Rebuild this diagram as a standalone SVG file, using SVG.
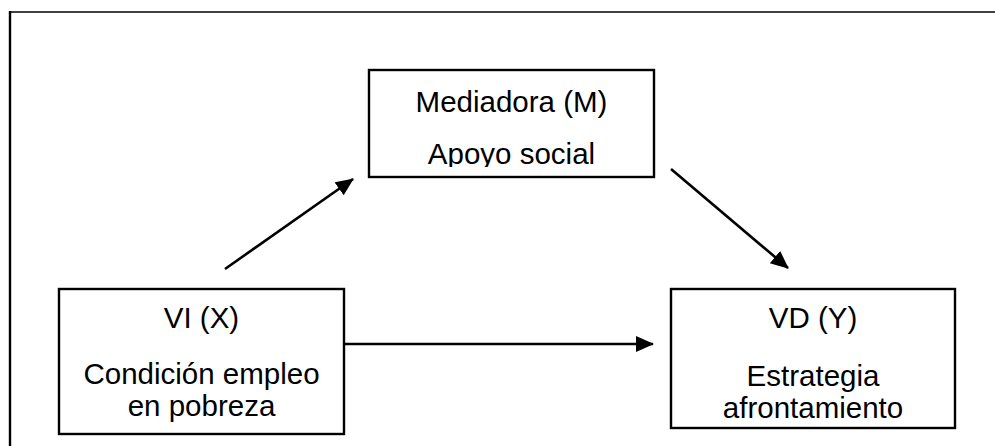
<svg xmlns="http://www.w3.org/2000/svg" width="995" height="446" viewBox="0 0 995 446">
<style>
.box{fill:#fff;stroke:#000;stroke-width:2.4}
.t{font-family:"Liberation Sans",Arial,sans-serif;font-size:29.5px;fill:#000;text-anchor:middle}
.c{stroke:#000;stroke-width:2.6;fill:none}
.frame{stroke:#000;fill:none}
</style>
<defs>
<marker id="ah" markerUnits="userSpaceOnUse" markerWidth="20" markerHeight="18" refX="17" refY="8" orient="auto">
<path d="M0,0 L18,8 L0,16 Z" fill="#000"/>
</marker>
<clipPath id="clipM"><rect x="369" y="70" width="285" height="97"/></clipPath>
<clipPath id="clipX"><rect x="59" y="289" width="285" height="133"/></clipPath>
</defs>
<g id="frame">
<line class="frame" x1="9" y1="12" x2="995" y2="12" stroke-width="1.6"/>
<line class="frame" x1="10" y1="11" x2="10" y2="446" stroke-width="2.4"/>
</g>
<g id="connectors">
<line class="c" x1="225" y1="269" x2="353" y2="179" marker-end="url(#ah)"/>
<line class="c" x1="671" y1="169" x2="788" y2="268" marker-end="url(#ah)"/>
<line class="c" x1="344" y1="344" x2="653" y2="344" marker-end="url(#ah)"/>
</g>
<g id="node-m">
<rect class="box" x="369" y="70" width="285" height="107"/>
<g clip-path="url(#clipM)">
<text class="t" x="511.5" y="112">Mediadora (M)</text>
<text class="t" x="511.5" y="164">Apoyo social</text>
</g>
</g>
<g id="node-x">
<rect class="box" x="59" y="289" width="285" height="145"/>
<g clip-path="url(#clipX)">
<text class="t" x="201.5" y="328">VI (X)</text>
<text class="t" x="201.5" y="384">Condición empleo</text>
<text class="t" x="201.5" y="416">en pobreza</text>
</g>
</g>
<g id="node-y">
<rect class="box" x="671" y="289" width="284" height="139"/>
<text class="t" x="813" y="328">VD (Y)</text>
<text class="t" x="813" y="386">Estrategia</text>
<text class="t" x="813" y="418">afrontamiento</text>
</g>
</svg>
